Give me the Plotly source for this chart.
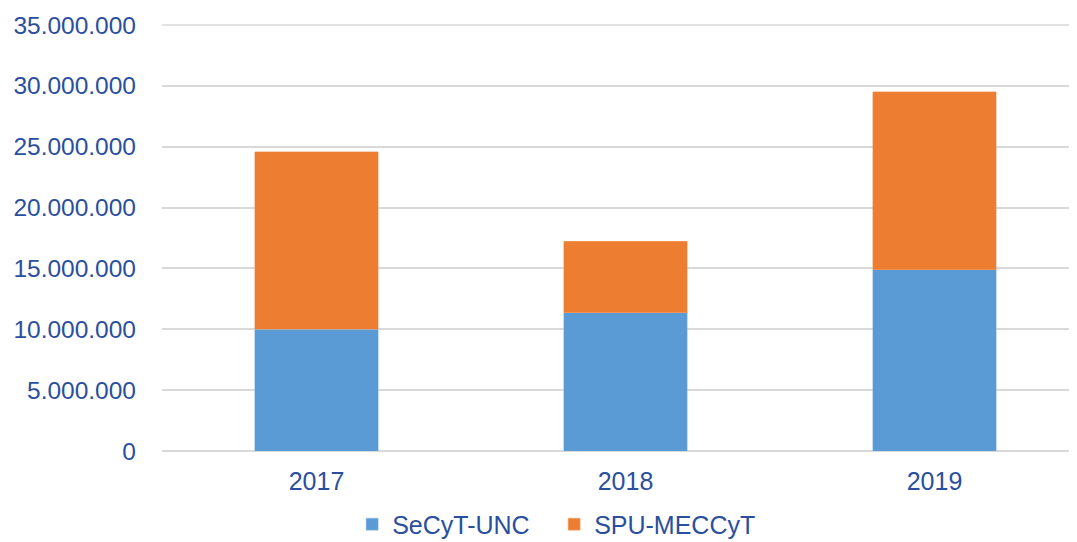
import plotly.graph_objects as go

years = ["2017", "2018", "2019"]
secyt_unc = [10000000, 11350000, 14900000]
spu_meccyt = [14600000, 5900000, 14600000]
series_names = ["SeCyT-UNC", "SPU-MECCyT"]
y_ticks = [0, 5000000, 10000000, 15000000, 20000000, 25000000, 30000000, 35000000]

fig = go.Figure()
fig.add_trace(go.Bar(x=years, y=secyt_unc, name=series_names[0],
                     marker=dict(color="#5b9bd5", line=dict(width=0.5, color="#8fbbe6")), width=0.4))
fig.add_trace(go.Bar(x=years, y=spu_meccyt, name=series_names[1],
                     marker=dict(color="#ed7d31", line=dict(width=0.5, color="#f3a873")), width=0.4))

font_color = "#2a4f9e"
fig.update_layout(
    barmode="stack",
    width=1077, height=542,
    separators=",.",
    paper_bgcolor="white", plot_bgcolor="white",
    margin=dict(l=154, r=0, t=16, b=99, autoexpand=False),
    font=dict(family="Liberation Sans, Arial, sans-serif", size=22, color=font_color),
    xaxis=dict(range=[-0.5, 2.487], showgrid=False, showline=False, ticks="",
               automargin=False, ticklabelstandoff=13,
               tickfont=dict(size=25, color=font_color)),
    yaxis=dict(range=[0, 35080000], tickvals=y_ticks, tickformat=",d",
               showgrid=True, gridcolor="#d9d9d9", gridwidth=1.5,
               zeroline=True, zerolinecolor="#d9d9d9", zerolinewidth=1.5,
               ticks="", ticklabelstandoff=25, automargin=False,
               tickfont=dict(size=24.5, color=font_color)),
    legend=dict(orientation="h", x=0.206, xanchor="left", y=-0.118, yanchor="top",
                traceorder="normal",
                font=dict(size=25, color=font_color), itemwidth=30,
                tracegroupgap=0, entrywidth=157),
    showlegend=True,
)
# top gridline at the axis maximum tick
fig.add_shape(type="line", xref="paper", x0=0, x1=1, yref="y",
              y0=y_ticks[-1], y1=y_ticks[-1], line=dict(color="#d9d9d9", width=1.5),
              layer="below")

fig.write_html("out.html")
